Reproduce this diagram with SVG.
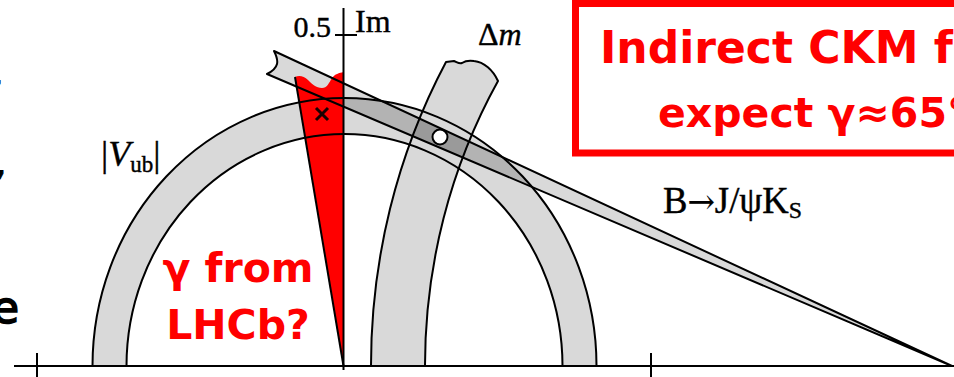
<svg xmlns="http://www.w3.org/2000/svg" width="954" height="377" viewBox="0 0 954 377">
<style>
.band{fill:#d9d9d9;stroke:none}
.edge{fill:none;stroke:#000;stroke-width:2;stroke-linejoin:round}
.ax{stroke:#000;stroke-width:2;fill:none}
.ser{font-family:"Liberation Serif","Times New Roman",serif;fill:#000;stroke:#000;stroke-width:0.4}
.comic{font-family:"DejaVu Sans","Noto Sans",sans-serif;font-weight:bold;fill:#ff0000}
</style>
<defs>
<path id="vubP" d="M92.5,366 A252,268 0 0 1 596.5,366 L562.5,366 A218,232 0 0 0 126.5,366 Z"/>
<path id="dmP" d="M371,366 A581,618 0 0 1 446,62 L454,61 C457,62 459,64 462,63 C465,61 468,60 474,61 C484,62 493,70 498,81 A527,561 0 0 0 425,366 Z"/>
<path id="jpP" d="M952,366 L274,51 C276,55 278,60 277,64 C276,68 271,72 267,74 Z"/>
<clipPath id="vubClip"><use href="#vubP"/></clipPath>
<clipPath id="dmClip"><use href="#dmP"/></clipPath>
</defs>
<rect width="954" height="377" fill="#fff"/>

<g id="left-text-fragments" font-family="'DejaVu Sans',sans-serif" fill="#000" stroke="#000">
<text x="-8" y="85" font-size="36" stroke-width="1">,</text>
<text x="-5" y="175" font-size="36" stroke-width="1">,</text>
<text x="-8" y="323" font-size="44" stroke-width="1.6">e</text>
</g>

<g id="fills">
<use href="#vubP" class="band"/>
<use href="#dmP" class="band"/>
<use href="#jpP" class="band"/>
<g clip-path="url(#vubClip)">
<use href="#jpP" fill="#b3b3b3"/>
<g clip-path="url(#dmClip)"><use href="#jpP" fill="#9a9a9a"/></g>
</g>
</g>

<g id="gamma-region">
<path d="M343.5,366 L295,77 C299,75 304,76 308,80 C312,84 316,88 322,88 C327,88 329,83 332,78 C335,74 339,73 343.5,72 Z" fill="#ff0000"/>
</g>

<g id="vub-band"><use href="#vubP" class="edge"/></g>
<g id="dm-band"><use href="#dmP" class="edge"/></g>
<g id="jpsi-band"><use href="#jpP" class="edge"/></g>
<g id="gamma-edge"><line x1="295" y1="77" x2="343.5" y2="366" class="edge"/></g>

<g id="markers">
<path d="M316,108 L328,120 M328,108 L316,120" stroke="#1a0000" stroke-width="3" fill="none"/>
<circle cx="440" cy="137" r="7.5" fill="#fff" stroke="#000" stroke-width="2"/>
</g>

<g id="axes">
<line x1="14" y1="366" x2="954" y2="366" class="ax"/>
<line x1="343.5" y1="8" x2="343.5" y2="370" class="ax"/>
<line x1="335" y1="35" x2="357" y2="35" class="ax"/>
<line x1="37" y1="353" x2="37" y2="377" class="ax"/>
<line x1="651" y1="353" x2="651" y2="377" class="ax"/>
</g>

<g id="labels">
<text class="ser" x="331" y="37" font-size="30" text-anchor="end">0.5</text>
<text class="ser" x="355" y="32" font-size="32">Im</text>
<text class="ser" x="478" y="45" font-size="32">Δ<tspan font-style="italic">m</tspan></text>
<text class="ser" x="101" y="166" font-size="36">|<tspan font-style="italic">V</tspan><tspan font-size="23" dy="6">ub</tspan><tspan dy="-6">|</tspan></text>
<text class="ser" x="663" y="213" font-size="37" stroke-width="0.6" textLength="139" lengthAdjust="spacingAndGlyphs">B<tspan font-family="'DejaVu Serif',serif" font-size="33" stroke-width="0.2">→</tspan>J/ψK<tspan font-size="24" dy="5">S</tspan></text>
</g>

<g id="gamma-label">
<text class="comic" x="238" y="282" font-size="41" text-anchor="middle">γ from</text>
<text class="comic" x="238" y="339" font-size="41" text-anchor="middle">LHCb?</text>
</g>

<g id="callout">
<rect x="575.5" y="3.5" width="420" height="149.5" fill="none" stroke="#ff0000" stroke-width="7"/>
<text class="comic" x="600" y="63" font-size="44">Indirect CKM f</text>
<text class="comic" x="658" y="127" font-size="41">expect γ≈65°</text>
</g>
</svg>
